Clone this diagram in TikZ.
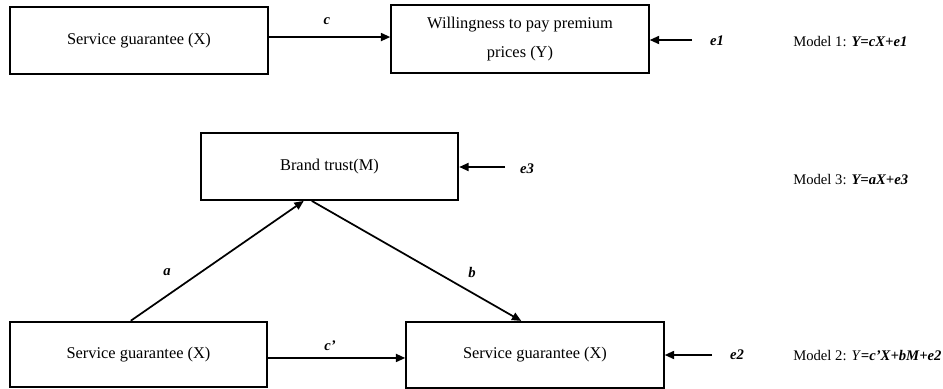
\documentclass[tikz,border=0pt]{standalone}
\usepackage{fontspec}
\setmainfont{Liberation Serif}
\usetikzlibrary{arrows.meta}

\begin{document}
\begin{tikzpicture}[x=0.75pt,y=-0.75pt,
  box/.style={draw,line width=1.6pt,minimum width=193pt,minimum height=50pt,
    inner sep=0pt,align=center,font=\fontsize{12.3}{22}\selectfont},
  link/.style={line width=1.3pt,-{Triangle[length=7pt,width=6pt]}},
  coef/.style={inner sep=0pt,font=\fontsize{11}{13}\selectfont\bfseries\itshape},
  model/.style={inner sep=0pt,anchor=west,font=\fontsize{11}{13}\selectfont}]
  \useasboundingbox (0,0) rectangle (943,389);
  % model 1: total effect
  \node[box] (X1) at (139,40.5) {Service guarantee (X)};
  \node[box,minimum height=51pt] (Y1) at (520,39) {Willingness to pay premium\\prices (Y)};
  \coordinate (cT) at ([yshift=2.6pt]X1.east);
  \draw[link] (cT) -- (cT -| Y1.west);
  \node[coef] (c) at (327,21) {c};
  \coordinate (e1s) at (692,40);
  \draw[link] (e1s) -- (e1s -| Y1.east);
  \node[coef] (e1) at (717,41) {e1};
  \node[model] (m1) at (793,42) {Model 1: \textbf{\textit{Y=cX+e1}}};
  % model 3: mediator
  \node[box] (M) at (329.5,166.5) {Brand trust(M)};
  \coordinate (e3s) at (505,167);
  \draw[link] (e3s) -- (e3s -| M.east);
  \node[coef] (e3) at (527,169) {e3};
  \node[model] (m3) at (793,180) {Model 3: \textbf{\textit{Y=aX+e3}}};
  % model 2: direct and indirect effect
  \node[box,minimum height=49pt] (X2) at (138.5,354.5) {Service guarantee (X)};
  \node[box,minimum height=49.5pt] (Y2) at (535,355) {Service guarantee (X)};
  \draw[link] ([xshift=91.5pt]X2.north west) -- ([xshift=78pt]M.south west);
  \draw[link] ([xshift=84pt]M.south west) -- ([xshift=87pt]Y2.north west);
  \node[coef] (a) at (167,272) {a};
  \node[coef] (b) at (472,272) {b};
  \coordinate (cD) at ([yshift=-2.6pt]X2.east);
  \draw[link] (cD) -- (cD -| Y2.west);
  \node[coef] (cp) at (330,346) {c’};
  \coordinate (e2s) at (712,355);
  \draw[link] (e2s) -- (e2s -| Y2.east);
  \node[coef] (e2) at (737,355) {e2};
  \node[model] (m2) at (793,356) {Model 2: \textit{Y}\textbf{\textit{=c’X+bM+e2}}};
\end{tikzpicture}
\end{document}
